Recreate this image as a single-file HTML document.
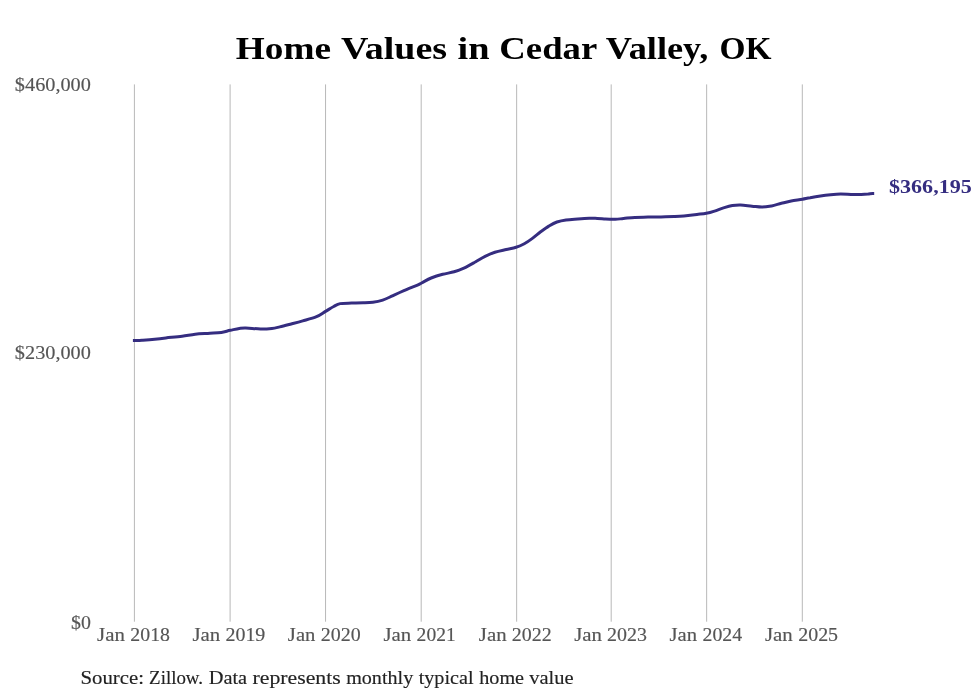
<!DOCTYPE html>
<html lang="en">
<head>
<meta charset="utf-8">
<title>Home Values in Cedar Valley, OK</title>
<style>
html,body{margin:0;padding:0;background:#ffffff;}
body{width:980px;height:699px;overflow:hidden;font-family:"Liberation Serif", serif;}
svg{display:block;will-change:transform;}
svg text{font-family:"Liberation Serif", serif;}
</style>
</head>
<body>
<svg width="980" height="699" viewBox="0 0 980 699">
<rect id="bg" x="0" y="0" width="980" height="699" fill="#ffffff"/>
<g id="grid" stroke="#b8b8b8" stroke-width="1" fill="none">
<line x1="134.40" y1="84.4" x2="134.40" y2="621.7"/>
<line x1="230.10" y1="84.4" x2="230.10" y2="621.7"/>
<line x1="325.55" y1="84.4" x2="325.55" y2="621.7"/>
<line x1="421.20" y1="84.4" x2="421.20" y2="621.7"/>
<line x1="516.65" y1="84.4" x2="516.65" y2="621.7"/>
<line x1="611.20" y1="84.4" x2="611.20" y2="621.7"/>
<line x1="706.65" y1="84.4" x2="706.65" y2="621.7"/>
<line x1="802.30" y1="84.4" x2="802.30" y2="621.7"/>
</g>
<path id="line" d="M134.4 340.6 C135.7 340.6 139.5 340.4 142.0 340.3 C144.5 340.2 145.5 340.2 149.5 339.8 C153.5 339.4 160.4 338.6 165.8 338.0 C171.2 337.4 177.2 336.8 182.1 336.2 C187.0 335.6 190.6 334.7 195.2 334.2 C199.8 333.7 205.6 333.6 209.9 333.3 C214.2 333.0 217.9 332.9 221.3 332.4 C224.7 331.9 227.3 330.9 230.3 330.3 C233.3 329.7 236.7 328.9 239.3 328.5 C241.9 328.1 242.3 327.9 245.8 328.0 C249.3 328.1 256.1 328.8 260.5 328.9 C264.9 329.0 268.7 328.7 271.9 328.4 C275.1 328.1 276.6 327.6 279.8 326.9 C283.0 326.2 287.4 325.0 291.2 324.0 C295.0 323.0 298.5 322.1 302.7 320.9 C306.9 319.7 312.7 318.3 316.5 316.7 C320.3 315.1 322.6 313.1 325.5 311.4 C328.4 309.7 331.2 307.8 333.7 306.5 C336.1 305.2 337.2 304.2 340.2 303.6 C343.2 303.0 347.8 303.2 351.6 303.1 C355.4 303.0 359.6 302.9 363.1 302.8 C366.7 302.7 369.6 302.7 372.9 302.3 C376.2 301.9 379.4 301.3 382.7 300.2 C385.9 299.1 388.9 297.5 392.4 295.9 C395.9 294.3 399.8 292.5 403.9 290.7 C408.0 288.9 413.9 286.6 416.9 285.3 C419.8 284.0 419.2 284.2 421.6 283.0 C424.0 281.8 427.7 279.4 431.2 278.0 C434.7 276.6 438.9 275.3 442.7 274.3 C446.5 273.3 450.6 272.8 454.1 271.8 C457.6 270.8 460.4 269.8 463.9 268.2 C467.4 266.6 471.8 264.0 475.3 262.0 C478.8 260.0 481.8 257.9 485.1 256.3 C488.4 254.7 491.4 253.3 494.9 252.2 C498.4 251.1 502.8 250.3 506.3 249.5 C509.8 248.7 513.1 248.2 516.1 247.3 C519.1 246.4 521.6 245.3 524.3 243.8 C527.0 242.3 529.7 240.4 532.4 238.4 C535.1 236.4 537.9 233.9 540.6 231.8 C543.3 229.8 546.1 227.7 548.8 226.1 C551.5 224.5 554.0 223.0 556.9 222.0 C559.8 221.0 562.5 220.4 566.0 219.9 C569.5 219.4 573.9 219.2 577.8 218.9 C581.7 218.6 586.0 218.3 589.2 218.2 C592.5 218.1 594.6 218.3 597.3 218.4 C600.0 218.5 602.5 218.8 605.5 219.0 C608.5 219.2 612.3 219.4 615.3 219.3 C618.3 219.2 620.2 218.8 623.5 218.5 C626.8 218.2 630.8 217.6 634.9 217.4 C639.0 217.2 643.6 217.2 648.0 217.1 C652.4 217.0 656.6 217.0 661.0 216.9 C665.4 216.8 670.3 216.8 674.1 216.6 C677.9 216.4 680.1 216.3 683.9 215.9 C687.7 215.5 693.2 214.8 696.9 214.4 C700.6 214.0 703.4 213.9 706.3 213.3 C709.2 212.8 711.5 212.1 714.5 211.1 C717.5 210.1 721.3 208.5 724.3 207.6 C727.3 206.7 729.7 206.0 732.4 205.6 C735.1 205.2 737.3 205.0 740.6 205.1 C743.9 205.2 748.5 205.9 752.0 206.2 C755.5 206.5 758.5 207.1 761.8 207.1 C765.1 207.1 768.3 206.5 771.6 205.9 C774.9 205.3 778.1 204.1 781.4 203.3 C784.7 202.5 787.7 201.7 791.2 201.0 C794.7 200.3 799.3 199.8 802.5 199.2 C805.7 198.6 807.2 198.2 810.2 197.7 C813.2 197.1 817.0 196.4 820.4 195.9 C823.8 195.4 827.2 195.0 830.6 194.7 C834.0 194.4 837.4 194.1 840.8 194.1 C844.2 194.1 847.6 194.3 851.0 194.4 C854.4 194.5 858.4 194.5 861.2 194.4 C864.0 194.3 866.1 194.2 868.0 194.1 C869.9 193.9 871.9 193.6 872.7 193.6" fill="none" stroke="#352d80" stroke-width="3" stroke-linejoin="round" stroke-linecap="square"/>
<text y="59.00" font-size="31.60" font-weight="bold" fill="#000000"><tspan x="235.79" textLength="95.20" lengthAdjust="spacingAndGlyphs">Home</tspan> <tspan x="340.92" textLength="106.22" lengthAdjust="spacingAndGlyphs">Values</tspan> <tspan x="457.62" textLength="32.02" lengthAdjust="spacingAndGlyphs">in</tspan> <tspan x="499.36" textLength="97.21" lengthAdjust="spacingAndGlyphs">Cedar</tspan> <tspan x="605.76" textLength="102.59" lengthAdjust="spacingAndGlyphs">Valley,</tspan> <tspan x="719.63" textLength="51.93" lengthAdjust="spacingAndGlyphs">OK</tspan></text>
<text y="91.00" font-size="18.00" font-weight="normal" fill="#555555" stroke="#555555" stroke-width="0.15"><tspan x="14.88" textLength="75.94" lengthAdjust="spacingAndGlyphs">$460,000</tspan></text>
<text y="359.00" font-size="18.00" font-weight="normal" fill="#555555" stroke="#555555" stroke-width="0.15"><tspan x="14.88" textLength="75.94" lengthAdjust="spacingAndGlyphs">$230,000</tspan></text>
<text y="629.00" font-size="18.00" font-weight="normal" fill="#555555" stroke="#555555" stroke-width="0.15"><tspan x="70.97" textLength="19.86" lengthAdjust="spacingAndGlyphs">$0</tspan></text>
<text y="641.00" font-size="18.00" font-weight="normal" fill="#555555" stroke="#555555" stroke-width="0.15"><tspan x="97.12" textLength="27.80" lengthAdjust="spacingAndGlyphs">Jan</tspan> <tspan x="130.36" textLength="39.59" lengthAdjust="spacingAndGlyphs">2018</tspan></text>
<text y="641.00" font-size="18.00" font-weight="normal" fill="#555555" stroke="#555555" stroke-width="0.15"><tspan x="192.49" textLength="27.81" lengthAdjust="spacingAndGlyphs">Jan</tspan> <tspan x="225.49" textLength="39.85" lengthAdjust="spacingAndGlyphs">2019</tspan></text>
<text y="641.00" font-size="18.00" font-weight="normal" fill="#555555" stroke="#555555" stroke-width="0.15"><tspan x="287.88" textLength="27.55" lengthAdjust="spacingAndGlyphs">Jan</tspan> <tspan x="320.86" textLength="39.86" lengthAdjust="spacingAndGlyphs">2020</tspan></text>
<text y="641.00" font-size="18.00" font-weight="normal" fill="#555555" stroke="#555555" stroke-width="0.15"><tspan x="383.40" textLength="27.80" lengthAdjust="spacingAndGlyphs">Jan</tspan> <tspan x="416.63" textLength="39.03" lengthAdjust="spacingAndGlyphs">2021</tspan></text>
<text y="641.00" font-size="18.00" font-weight="normal" fill="#555555" stroke="#555555" stroke-width="0.15"><tspan x="478.77" textLength="27.81" lengthAdjust="spacingAndGlyphs">Jan</tspan> <tspan x="511.76" textLength="39.84" lengthAdjust="spacingAndGlyphs">2022</tspan></text>
<text y="641.00" font-size="18.00" font-weight="normal" fill="#555555" stroke="#555555" stroke-width="0.15"><tspan x="574.16" textLength="27.80" lengthAdjust="spacingAndGlyphs">Jan</tspan> <tspan x="607.14" textLength="39.85" lengthAdjust="spacingAndGlyphs">2023</tspan></text>
<text y="641.00" font-size="18.00" font-weight="normal" fill="#555555" stroke="#555555" stroke-width="0.15"><tspan x="669.54" textLength="27.54" lengthAdjust="spacingAndGlyphs">Jan</tspan> <tspan x="702.54" textLength="39.59" lengthAdjust="spacingAndGlyphs">2024</tspan></text>
<text y="641.00" font-size="18.00" font-weight="normal" fill="#555555" stroke="#555555" stroke-width="0.15"><tspan x="764.98" textLength="27.80" lengthAdjust="spacingAndGlyphs">Jan</tspan> <tspan x="798.22" textLength="39.87" lengthAdjust="spacingAndGlyphs">2025</tspan></text>
<text y="193.00" font-size="18.00" font-weight="bold" fill="#352d80"><tspan x="889.03" textLength="82.73" lengthAdjust="spacingAndGlyphs">$366,195</tspan></text>
<text y="684.00" font-size="19.50" font-weight="normal" fill="#222222" stroke="#222222" stroke-width="0.15"><tspan x="80.48" textLength="63.54" lengthAdjust="spacingAndGlyphs">Source:</tspan> <tspan x="149.12" textLength="53.87" lengthAdjust="spacingAndGlyphs">Zillow.</tspan> <tspan x="208.71" textLength="38.39" lengthAdjust="spacingAndGlyphs">Data</tspan> <tspan x="252.55" textLength="88.17" lengthAdjust="spacingAndGlyphs">represents</tspan> <tspan x="346.17" textLength="67.04" lengthAdjust="spacingAndGlyphs">monthly</tspan> <tspan x="418.66" textLength="54.87" lengthAdjust="spacingAndGlyphs">typical</tspan> <tspan x="479.23" textLength="44.85" lengthAdjust="spacingAndGlyphs">home</tspan> <tspan x="529.27" textLength="44.35" lengthAdjust="spacingAndGlyphs">value</tspan></text>
</svg>
</body>
</html>
